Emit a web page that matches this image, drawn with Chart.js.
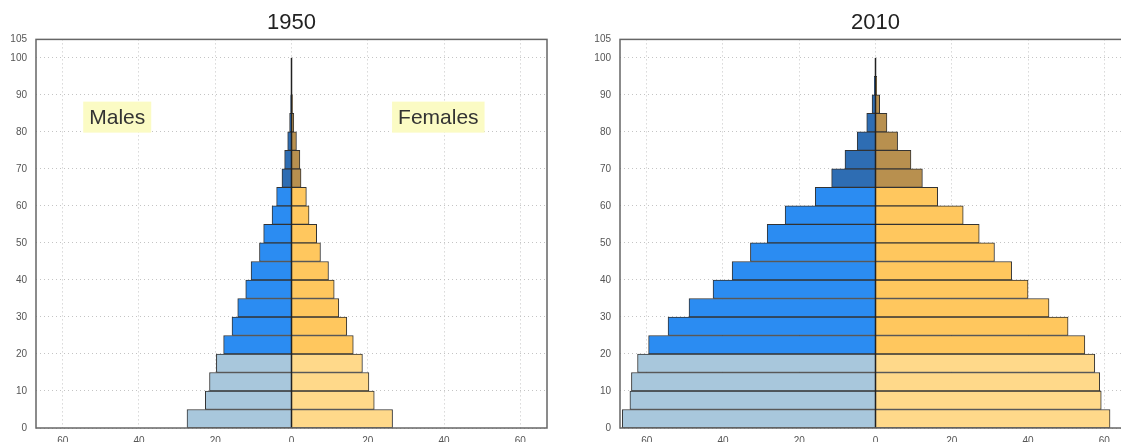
<!DOCTYPE html>
<html>
<head>
<meta charset="utf-8">
<script src="https://cdn.jsdelivr.net/npm/chart.js@4"></script>
<style>
  html, body { margin: 0; padding: 0; background: #fff; width: 1121px; height: 442px; overflow: hidden; }
  #pyr1950 { position: absolute; left: 0; top: 0; }
  #pyr2010 { position: absolute; left: 584px; top: 0; }
</style>
</head>
<body>
<canvas id="pyr1950" width="560" height="460"></canvas>
<canvas id="pyr2010" width="547" height="460"></canvas>
<script>
// age groups (start of each 5-year band)
const ageStarts = [0, 5, 10, 15, 20, 25, 30, 35, 40, 45, 50, 55, 60, 65, 70, 75, 80, 85, 90, 95];

// population per band
const males1950   = [27.4, 22.6, 21.5, 19.7, 17.8, 15.6, 14.1, 12.0, 10.6, 8.4, 7.3, 5.1, 3.9, 2.5, 1.8, 1.0, 0.5, 0.2, 0.08, 0.02];
const females1950 = [26.5, 21.7, 20.3, 18.6, 16.2, 14.5, 12.4, 11.2, 9.7, 7.6, 6.6, 4.6, 3.9, 2.5, 2.2, 1.3, 0.6, 0.25, 0.1, 0.03];
const males2010   = [66.4, 64.4, 64.0, 62.4, 59.5, 54.4, 48.9, 42.6, 37.6, 32.8, 28.4, 23.7, 15.8, 11.5, 8.0, 4.8, 2.3, 0.9, 0.3, 0.05];
const females2010 = [61.5, 59.2, 58.8, 57.5, 54.9, 50.5, 45.5, 40.0, 35.7, 31.2, 27.2, 23.0, 16.3, 12.3, 9.3, 5.8, 3.0, 1.1, 0.3, 0.05];

const xTicks = [-60, -40, -20, 0, 20, 40, 60];
const yTicks = [0, 10, 20, 30, 40, 50, 60, 70, 80, 90, 100, 105];

const sexLabels = [
  { text: "Males", x: -45.7, y: 84 },
  { text: "Females", x: 38.5, y: 84 },
];

const FONT = '"Liberation Sans", Arial, sans-serif';
const maleColors = ["#a8c7dc", "#2b8cf2", "#2e6db3"];
const femaleColors = ["#ffd98a", "#ffc75e", "#b8904f"];
const band = a => (a < 20 ? 0 : a < 65 ? 1 : 2);

// frame round the plot area
const frame = {
  id: "frame",
  afterDraw(chart) {
    const { ctx, chartArea: a } = chart;
    ctx.save();
    ctx.strokeStyle = "#666";
    ctx.lineWidth = 1.5;
    ctx.strokeRect(a.left, a.top, a.right - a.left, a.bottom - a.top);
    ctx.restore();
  },
};

// "Males" / "Females" boxes
const sexLabelPlugin = {
  id: "sexLabels",
  afterDatasetsDraw(chart) {
    const { ctx, scales: { x, y } } = chart;
    ctx.save();
    ctx.font = "21px " + FONT;
    ctx.textAlign = "center";
    ctx.textBaseline = "middle";
    for (const l of sexLabels) {
      const px = x.getPixelForValue(l.x);
      const py = y.getPixelForValue(l.y);
      const w = ctx.measureText(l.text).width + 12;
      const h = 31;
      ctx.fillStyle = "#fbfbc4";
      ctx.fillRect(px - w / 2, py - h / 2, w, h);
      ctx.fillStyle = "#333";
      ctx.fillText(l.text, px, py + 1);
    }
    ctx.restore();
  },
};

function makePyramid(id, year, males, females, extra, padRight) {
  new Chart(document.getElementById(id), {
    type: "bar",
    data: {
      datasets: [
        {
          type: "line",
          indexAxis: "y",
          data: [{ x: 0, y: 0 }, { x: 0, y: 100 }],
          borderColor: "#222",
          borderWidth: 1.5,
          pointRadius: 0,
          order: 0,
        },
        {
          label: "Males",
          data: males.map((v, i) => ({ x: -v, y: ageStarts[i] + 2.5 })),
          backgroundColor: ageStarts.map(a => maleColors[band(a)]),
          borderColor: "#333",
          borderWidth: 1,
          grouped: false,
          order: 1,
        },
        {
          label: "Females",
          data: females.map((v, i) => ({ x: v, y: ageStarts[i] + 2.5 })),
          backgroundColor: ageStarts.map(a => femaleColors[band(a)]),
          borderColor: "#333",
          borderWidth: 1,
          grouped: false,
          order: 1,
        },
      ],
    },
    options: {
      responsive: false,
      animation: false,
      indexAxis: "y",
      categoryPercentage: 1,
      barPercentage: 1,
      layout: { padding: { left: 0, right: padRight, top: 0, bottom: 0 } },
      scales: {
        x: {
          type: "linear",
          min: -67,
          max: 67,
          offset: false,
          afterBuildTicks: s => { s.ticks = xTicks.map(v => ({ value: v })); },
          afterFit: s => { s.height = 32; },
          ticks: {
            callback: v => Math.abs(v),
            font: { size: 10, family: FONT },
            color: "#555",
            padding: 7,
            maxRotation: 0,
          },
          grid: { color: "#c4c4c4", drawTicks: false, offset: false },
          border: { display: false, dash: [1, 3] },
        },
        y: {
          type: "linear",
          min: 0,
          max: 105,
          offset: false,
          afterBuildTicks: s => { s.ticks = yTicks.map(v => ({ value: v })); },
          afterFit: s => { s.width = 36; },
          ticks: {
            font: { size: 10, family: FONT },
            color: "#555",
            padding: 9,
          },
          grid: { color: "#c4c4c4", drawTicks: false, offset: false },
          border: { display: false, dash: [1, 3] },
        },
      },
      plugins: {
        legend: { display: false },
        tooltip: { enabled: false },
        title: {
          display: true,
          text: year,
          fullSize: false,
          color: "#222",
          font: { size: 22, family: FONT, weight: "normal" },
          padding: { top: 10, bottom: 3 },
        },
      },
    },
    plugins: [frame].concat(extra),
  });
}

makePyramid("pyr1950", "1950", males1950, females1950, [sexLabelPlugin], 13);
makePyramid("pyr2010", "2010", males2010, females2010, [], 0);
</script>
</body>
</html>
